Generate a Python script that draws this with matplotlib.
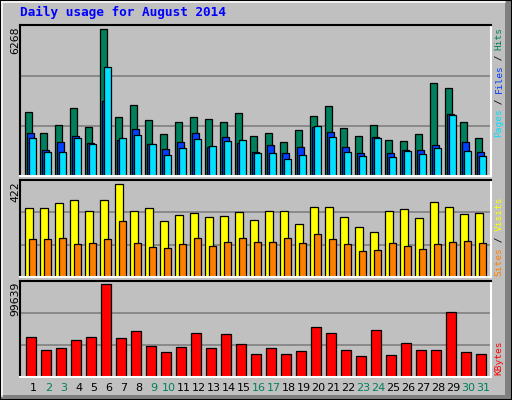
import matplotlib
matplotlib.use("Agg")
import matplotlib.pyplot as plt
import matplotlib.patches as mp
import matplotlib.lines as ml
import numpy as np

days = list(range(1, 32))
weekend = [2, 3, 9, 10, 16, 17, 23, 24, 30, 31]
hits = [2759, 1863, 2204, 2929, 2119, 6268, 2546, 3057, 2418, 1821, 2332, 2546, 2460, 2332, 2716, 1735,
        1863, 1480, 1991, 2588, 3015, 2077, 1735, 2204, 1565, 1522, 1821, 3953, 3740, 2332, 1650]
files = [1863, 1138, 1480, 1735, 1437, 3198, 1565, 2034, 1394, 1181, 1480, 1863, 1266, 1693, 1437, 1053,
         1352, 1011, 1266, 2119, 1906, 1266, 1011, 1693, 1011, 1138, 1138, 1352, 2673, 1480, 1053]
pages = [1650, 1053, 1053, 1650, 1394, 4635, 1650, 1778, 1394, 925, 1224, 1608, 1309, 1522, 1565, 1011,
         1011, 755, 925, 2162, 1693, 1053, 883, 1650, 840, 1096, 968, 1224, 2631, 1096, 883]
visits = [312, 312, 335, 349, 298, 349, 422, 298, 312, 252, 280, 289, 271, 275, 294, 257,
          298, 298, 239, 317, 317, 271, 225, 206, 298, 307, 266, 339, 317, 284, 289]
sites = [174, 174, 179, 151, 156, 174, 252, 156, 138, 133, 151, 179, 142, 161, 179, 161,
         161, 179, 156, 197, 174, 151, 119, 124, 156, 142, 128, 151, 161, 165, 156]
kbytes = [42907, 28727, 30908, 39637, 42907, 99639, 41816, 49454, 33090, 26545, 32000, 47272, 30908,
          46181, 35272, 24363, 30908, 24363, 27636, 53818, 47272, 28727, 22181, 50545, 23272, 36363,
          28727, 28727, 70181, 26545, 24363]

W, H = 512, 400
fig = plt.figure(figsize=(W / 100, H / 100), dpi=100)
fig.patch.set_facecolor("#C0C0C0")
BG = "#C0C0C0"
GREEN, BLUE, CYAN = "#00805C", "#0040FF", "#00E0FF"
YEL, ORA, RED = "#FFFF00", "#FF8000", "#FF0000"


def fx(x):
    return x / W


def fy(y):
    return 1 - y / H


def fline(x0, y0, x1, y1, c, lw=1):
    fig.add_artist(ml.Line2D([fx(x0), fx(x1)], [fy(y0), fy(y1)], color=c, lw=lw * 0.72,
                             transform=fig.transFigure, zorder=-1))

fig.add_artist(mp.Rectangle((fx(505), 0), fx(7), 1, transform=fig.transFigure, color="#808080", lw=0, zorder=-2))
fig.add_artist(mp.Rectangle((0, 0), 1, 5 / H, transform=fig.transFigure, color="#808080", lw=0, zorder=-2))
fig.add_artist(mp.Rectangle((0, 0), 1, 1, transform=fig.transFigure, fill=False, ec="black", lw=1.5, zorder=-1))
fline(2, 2, 2, 396, "white", 1.5)
fline(2, 2, 505, 2, "white", 1.5)

fig.text(fx(20), fy(12), "Daily usage for August 2014", family="DejaVu Sans Mono", weight="bold",
         color="#0000FF", fontsize=9.2, ha="left", va="center")

x = np.arange(31)
XL = (-5 / 15, 466 / 15)


def panel(top, bot, ymax):
    ax = fig.add_axes([fx(20), fy(bot), fx(491 - 20), (bot - top) / H])
    ax.set_facecolor(BG)
    ax.set_xlim(*XL)
    ax.set_ylim(0, ymax)
    for s in ("left", "top"):
        ax.spines[s].set_color("black")
    for s in ("right", "bottom"):
        ax.spines[s].set_color("white")
    for sp in ax.spines.values():
        sp.set_linewidth(1.5)
    for f in (1 / 3, 2 / 3):
        ax.axhline(ymax * f, color="#808080", lw=1.2, zorder=0)
    ax.set_xticks([])
    ax.set_yticks([])
    return ax


ek = dict(edgecolor="black", linewidth=0.9, align="edge")
ax1 = panel(25, 176.5, max(hits) * 151 / 147)
ax1.bar(x, hits, 0.47, color=GREEN, **ek)
ax1.bar(x + 0.12, files, 0.5, color=BLUE, **ek)
ax1.bar(x + 0.27, pages, 0.47, color=CYAN, **ek)

ax2 = panel(180, 277, max(visits) * 96 / 92)
ax2.bar(x, visits, 0.53, color=YEL, **ek)
ax2.bar(x + 0.27, sites, 0.47, color=ORA, **ek)

ax3 = panel(280.5, 376.5, max(kbytes) * 95 / 91.3)
ax3.bar(x + 0.07, kbytes, 0.67, color=RED, **ek)

for ytop, s in ((27, str(max(hits))), (181, str(max(visits))), (282, str(max(kbytes)))):
    fig.text(fx(15), fy(ytop), s, rotation=90, ha="center", va="top", fontsize=7.8, color="black")

for i, d in enumerate(days):
    fig.text(fx(25 + 15 * i + 8.5), fy(388), str(d), ha="center", va="center", fontsize=8,
             color=GREEN if d in weekend else "black")


def rlabel(ybot, parts, pitch=5.45):
    pos = 0
    for txt, c in parts:
        fig.text(fx(499), fy(ybot - pos * pitch), txt, rotation=90, ha="center", va="bottom",
                 family="DejaVu Sans Mono", fontsize=6.8, color=c)
        pos += len(txt)

rlabel(137, [("Pages", CYAN), (" / ", "black"), ("Files", BLUE), (" / ", "black"), ("Hits", GREEN)])
rlabel(276, [("Sites", ORA), (" / ", "black"), ("Visits", YEL)], 5.6)
rlabel(375, [("KBytes", RED)], 5.6)

fig.savefig("out.png", dpi=100, facecolor=fig.get_facecolor())
